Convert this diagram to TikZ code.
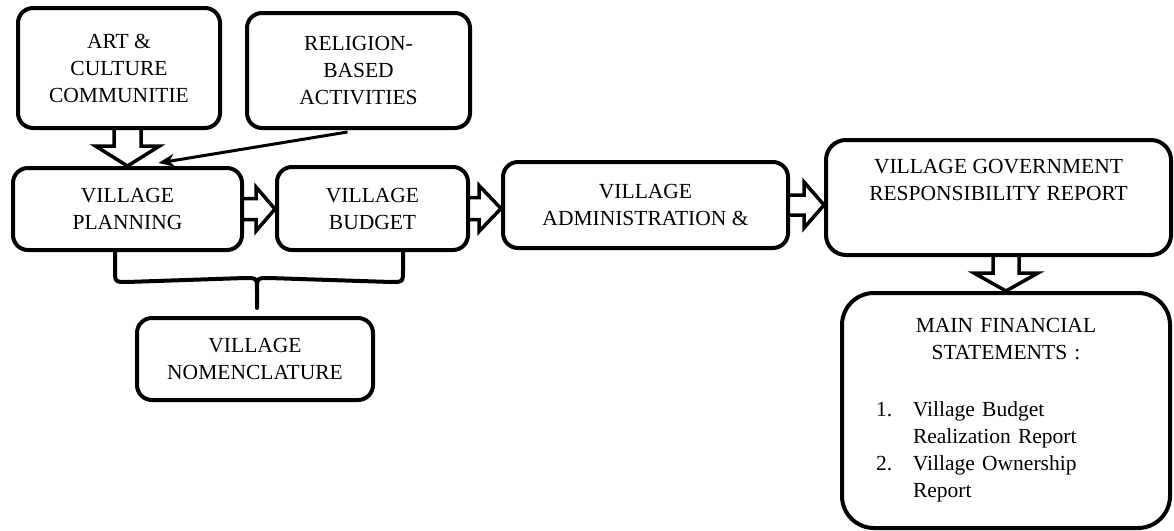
\documentclass[tikz,border=0pt]{standalone}
\usepackage{fontspec}
\setmainfont{Liberation Serif}
\usetikzlibrary{calc,arrows.meta,backgrounds}
\newcommand\hblockarrow[5]{%
  \draw[hollow] let \p1=(#1.east), \p2=(#2.west) in
    (\x1,\y1+#3pt) -- (\x2-#5pt,\y1+#3pt) -- (\x2-#5pt,\y1+#4pt) -- (\x2,\y1)
    -- (\x2-#5pt,\y1-#4pt) -- (\x2-#5pt,\y1-#3pt) -- (\x1,\y1-#3pt);}
\newcommand\vblockarrow[5]{%
  \draw[hollow] let \p1=(#1.south), \p2=(#2.north) in
    (\x2-#3pt,\y1) -- (\x2-#3pt,\y2+#5pt) -- (\x2-#4pt,\y2+#5pt) -- (\x2,\y2)
    -- (\x2+#4pt,\y2+#5pt) -- (\x2+#3pt,\y2+#5pt) -- (\x2+#3pt,\y1);}
\begin{document}
\begin{tikzpicture}[x=1pt,y=-1pt,
  box/.style={draw, line width=4pt, fill=white, rounded corners=15pt,
    align=center, inner sep=0pt, font=\fontsize{21.5}{27}\selectfont},
  hollow/.style={draw, line width=3.5pt, fill=white, miter limit=10},
  thinarrow/.style={line width=3pt, -{Stealth[length=16pt,width=13pt]}},
  bracestyle/.style={line width=4pt, line join=round, line cap=round}]
\useasboundingbox (0,0) rectangle (1174,530);

\node[box, minimum width=202pt, minimum height=120pt] (art) at (119,68)
  {ART \&\\CULTURE\\COMMUNITIE};
\node[box, minimum width=223pt, minimum height=115pt] (rel) at (358.5,70.5)
  {RELIGION-\\BASED\\ACTIVITIES};
\node[box, minimum width=229pt, minimum height=82pt] (plan) at (127.5,209)
  {VILLAGE\\PLANNING};
\node[box, minimum width=191pt, minimum height=83pt] (bud) at (372.5,208.5)
  {VILLAGE\\BUDGET};
\node[box, minimum width=285pt, minimum height=86pt] (adm) at (645.5,205)
  {VILLAGE\\ADMINISTRATION \&};
\node[box, minimum width=345pt, minimum height=115pt, rounded corners=20pt] (gov) at (998.5,197.5)
  {VILLAGE GOVERNMENT\\RESPONSIBILITY REPORT\\\strut};
\node[box, minimum width=236pt, minimum height=82pt] (nom) at (255,359)
  {VILLAGE\\NOMENCLATURE};
\node[box, minimum width=328pt, minimum height=235pt, rounded corners=32pt,
  text width=300pt, align=left] (main) at (1006,410.5)
  {\makebox[300pt]{MAIN FINANCIAL}\\
   \makebox[300pt]{STATEMENTS :}\\[30pt]
   \hspace*{20pt}\makebox[37pt][l]{1.}Village Budget\\
   \hspace*{57pt}Realization Report\\
   \hspace*{20pt}\makebox[37pt][l]{2.}Village Ownership\\
   \hspace*{57pt}Report};

\begin{pgfonlayer}{background}
  \vblockarrow{art}{plan}{13.5}{32}{20}
  \hblockarrow{plan}{bud}{10.5}{22}{19}
  \hblockarrow{bud}{adm}{11}{23}{22}
  \hblockarrow{adm}{gov}{10}{23}{20}
  \vblockarrow{gov}{main}{13}{32}{18}
\end{pgfonlayer}

\draw[thinarrow] ($(rel.south)+(-11,2)$) -- ($(plan.north)+(31,-3)$);

\coordinate (bL) at ($(plan.south)+(-12.5,0)$);
\coordinate (bR) at ($(bud.south)+(30.5,0)$);
\coordinate (bM) at ($(nom.north)+(2,-8)$);
\draw[bracestyle] (bL) -- ($(bL)+(0,18)$) .. controls ($(bL)+(0,30)$) .. ($(bL)+(12,30)$)
  -- ($(bM)+(-12,-30)$) .. controls ($(bM)+(0,-30)$) .. ($(bM)+(0,-18)$) -- (bM);
\draw[bracestyle] ($(bM)+(0,-18)$) .. controls ($(bM)+(0,-30)$) .. ($(bM)+(12,-30)$)
  -- ($(bR)+(-12,30)$) .. controls ($(bR)+(0,30)$) .. ($(bR)+(0,18)$) -- (bR);
\end{tikzpicture}
\end{document}
